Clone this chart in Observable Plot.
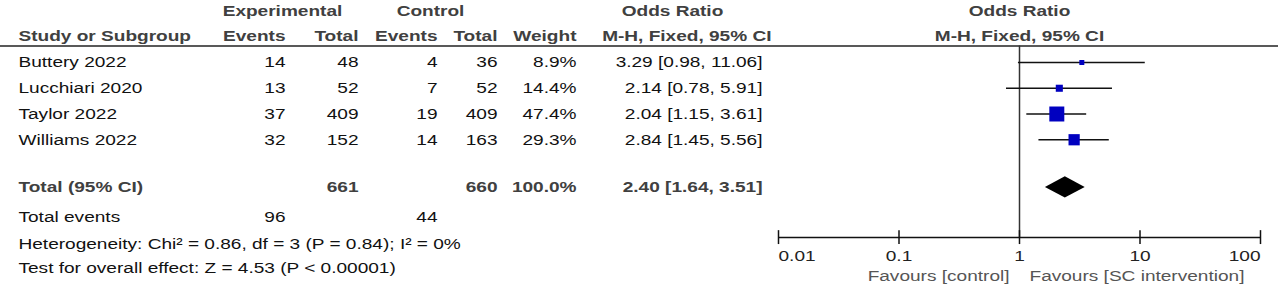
<!DOCTYPE html>
<html><head><meta charset="utf-8">
<script src="https://cdn.jsdelivr.net/npm/d3@7"></script>
<script src="https://cdn.jsdelivr.net/npm/@observablehq/plot@0.6"></script>
<style>body{margin:0;background:#fff}</style>
</head><body><div id="chart"></div>
<script>
// ---- data ----
const studies   = ["Buttery 2022", "Lucchiari 2020", "Taylor 2022", "Williams 2022"];
const expEvents = [14, 13, 37, 32];
const expTotal  = [48, 52, 409, 152];
const ctlEvents = [4, 7, 19, 14];
const ctlTotal  = [36, 52, 409, 163];
const weights   = [8.9, 14.4, 47.4, 29.3];
const orEst     = [3.29, 2.14, 2.04, 2.84];
const orLo      = [0.98, 0.78, 1.15, 1.45];
const orHi      = [11.06, 5.91, 3.61, 5.56];

const totalLabel  = "Total (95% CI)";
const totalN      = [661, 660];
const totalWeight = 100.0;
const totalOR     = [2.40, 1.64, 3.51]; // estimate, lower, upper
const eventsLabel = "Total events";
const totalEvents = [96, 44];
const heterogeneity = "Heterogeneity: Chi² = 0.86, df = 3 (P = 0.84); I² = 0%";
const overallTest   = "Test for overall effect: Z = 4.53 (P < 0.00001)";

const headTop = ["Experimental", "Control", "Odds Ratio", "Odds Ratio"];
const headSub = ["Study or Subgroup", "Events", "Total", "Events", "Total", "Weight", "M-H, Fixed, 95% CI", "M-H, Fixed, 95% CI"];
const axisTicks = [0.01, 0.1, 1, 10, 100];
const axisTickLabels = ["0.01", "0.1", "1", "10", "100"];
const favours = ["Favours [control]", "Favours [SC intervention]"];

// ---- layout ----
const C = {name: 18, expEv: 285, expTot: 358, ctlEv: 437, ctlTot: 497, weight: 576, orText: 762,
           expHead: 282, ctlHead: 430, orHead: 672, orSubEnd: 771};
const R = {head0: 0, head1: 0.97, line: 1.36, total: 6.85, events: 8, het: 9.05, test: 10,
           axis: 8.8, tickLab: 9.5, fav: 10.3};
const HEAD = "#404040", BODY = "#111";

const rows = studies.map((s, i) => ({
  row: 2 + i, name: s, expEv: expEvents[i], expTot: expTotal[i], ctlEv: ctlEvents[i], ctlTot: ctlTotal[i],
  weight: weights[i], est: orEst[i], lo: orLo[i], hi: orHi[i],
  wText: weights[i].toFixed(1) + "%",
  orText: `${orEst[i].toFixed(2)} [${orLo[i].toFixed(2)}, ${orHi[i].toFixed(2)}]`
}));
const totalRow = [{
  row: R.total, name: totalLabel, expTot: totalN[0], ctlTot: totalN[1],
  wText: totalWeight.toFixed(1) + "%",
  orText: `${totalOR[0].toFixed(2)} [${totalOR[1].toFixed(2)}, ${totalOR[2].toFixed(2)}]`
}];
const eventsRow = [{row: R.events, name: eventsLabel, expEv: totalEvents[0], ctlEv: totalEvents[1]}];
const diamond = [
  {x: totalOR[1], y1: R.total, y2: R.total},
  {x: totalOR[0], y1: R.total - 0.41, y2: R.total + 0.41},
  {x: totalOR[2], y1: R.total, y2: R.total}
];
const ticks = axisTicks.map((t, i) => ({t, label: axisTickLabels[i]}));

const col = (data, key, px, opts = {}) =>
  Plot.text(data, {y: "row", text: key, frameAnchor: "left", dx: px, textAnchor: "end", fill: BODY, ...opts});
const fixed = (txt, px, y, anchor, opts = {}) =>
  Plot.text([txt], {y, text: d => d, frameAnchor: "left", dx: px, textAnchor: anchor, ...opts});

const chart = Plot.plot({
  width: 1280, height: 289,
  marginLeft: 0, marginRight: 2, marginTop: 0, marginBottom: 0,
  style: {fontFamily: "'Liberation Sans', Arial, sans-serif", fontSize: "15.5px", background: "white", overflow: "visible"},
  x: {type: "log", domain: [0.01, 100], range: [778, 1260], axis: null},
  y: {domain: [0, 10], range: [10.5, 268], axis: null},
  r: {type: "sqrt", domain: [8.9, 47.4], range: [2.82, 8.46]},
  marks: [
    // header
    fixed(headTop[0], C.expHead, R.head0, "middle", {fill: HEAD, fontWeight: "bold"}),
    fixed(headTop[1], C.ctlHead, R.head0, "middle", {fill: HEAD, fontWeight: "bold"}),
    fixed(headTop[2], C.orHead, R.head0, "middle", {fill: HEAD, fontWeight: "bold"}),
    Plot.text([headTop[3]], {x: 1, y: R.head0, text: d => d, fill: HEAD, fontWeight: "bold"}),
    fixed(headSub[0], C.name, R.head1, "start", {fill: HEAD, fontWeight: "bold"}),
    fixed(headSub[1], C.expEv, R.head1, "end", {fill: HEAD, fontWeight: "bold"}),
    fixed(headSub[2], C.expTot, R.head1, "end", {fill: HEAD, fontWeight: "bold"}),
    fixed(headSub[3], C.ctlEv, R.head1, "end", {fill: HEAD, fontWeight: "bold"}),
    fixed(headSub[4], C.ctlTot, R.head1, "end", {fill: HEAD, fontWeight: "bold"}),
    fixed(headSub[5], C.weight, R.head1, "end", {fill: HEAD, fontWeight: "bold"}),
    fixed(headSub[6], C.orSubEnd, R.head1, "end", {fill: HEAD, fontWeight: "bold"}),
    Plot.text([headSub[7]], {x: 1, y: R.head1, text: d => d, fill: HEAD, fontWeight: "bold"}),
    Plot.ruleY([R.line], {stroke: "#222", strokeWidth: 1.3}),

    // study rows
    col(rows, "name", C.name, {textAnchor: "start"}),
    col(rows, "expEv", C.expEv),
    col(rows, "expTot", C.expTot),
    col(rows, "ctlEv", C.ctlEv),
    col(rows, "ctlTot", C.ctlTot),
    col(rows, "wText", C.weight),
    col(rows, "orText", C.orText),

    // total rows
    col(totalRow, "name", C.name, {textAnchor: "start", fill: HEAD, fontWeight: "bold"}),
    col(totalRow, "expTot", C.expTot, {fill: HEAD, fontWeight: "bold"}),
    col(totalRow, "ctlTot", C.ctlTot, {fill: HEAD, fontWeight: "bold"}),
    col(totalRow, "wText", C.weight, {fill: HEAD, fontWeight: "bold"}),
    col(totalRow, "orText", C.orText, {fill: HEAD, fontWeight: "bold"}),
    col(eventsRow, "name", C.name, {textAnchor: "start"}),
    col(eventsRow, "expEv", C.expEv),
    col(eventsRow, "ctlEv", C.ctlEv),
    fixed(heterogeneity, C.name, R.het, "start", {fill: BODY}),
    fixed(overallTest, C.name, R.test, "start", {fill: BODY}),

    // forest plot
    Plot.ruleX([1], {x: d => d, y1: R.line, y2: R.axis, stroke: "#333", strokeWidth: 1.5}),
    Plot.ruleY(rows, {y: "row", x1: "lo", x2: "hi", stroke: "#111", strokeWidth: 1.6}),
    Plot.dot(rows, {x: "est", y: "row", r: "weight", symbol: "square", fill: "#0000C0", stroke: null}),
    Plot.areaY(diamond, {x: "x", y1: "y1", y2: "y2", fill: "#000", curve: "linear"}),

    // axis
    Plot.ruleY([R.axis], {x1: axisTicks[0], x2: axisTicks[axisTicks.length - 1], stroke: "#111", strokeWidth: 1.5}),
    Plot.ruleX(ticks, {x: "t", y1: R.axis - 0.27, y2: R.axis + 0.27, stroke: "#111", strokeWidth: 1.5}),
    Plot.text(ticks.slice(0, 1), {x: "t", y: R.tickLab, text: "label", textAnchor: "start", fill: "#222"}),
    Plot.text(ticks.slice(1, -1), {x: "t", y: R.tickLab, text: "label", textAnchor: "middle", fill: "#222"}),
    Plot.text(ticks.slice(-1), {x: "t", y: R.tickLab, text: "label", textAnchor: "end", fill: "#222"}),
    Plot.text([favours[0]], {x: 1, y: R.fav, text: d => d, dx: -10, textAnchor: "end", fill: "#555"}),
    Plot.text([favours[1]], {x: 1, y: R.fav, text: d => d, dx: 10, textAnchor: "start", fill: "#555"})
  ]
});

// widen glyphs horizontally (reference text is horizontally stretched);
// scale is appended to each text's own translate, so anchors stay in place
const SX = 1.23;
chart.querySelectorAll("text").forEach(t => {
  const tr = t.getAttribute("transform");
  if (tr && tr.includes("translate")) t.setAttribute("transform", `${tr} scale(${SX},1)`);
});

document.getElementById("chart").appendChild(chart);
</script>
</body></html>
